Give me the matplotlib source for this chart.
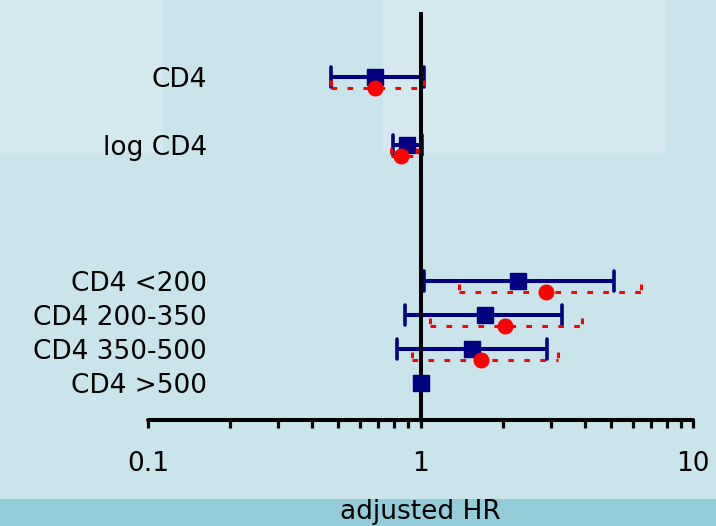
import matplotlib
matplotlib.use("Agg")
import matplotlib.pyplot as plt
from matplotlib.patches import Rectangle
from matplotlib.transforms import blended_transform_factory

plt.rcParams['font.family'] = ['DejaVu Sans']
plt.rcParams['lines.scale_dashes'] = False

# Forest plot data: adjusted hazard ratios with 95% CI
categories = ["CD4", "log CD4", "CD4 <200", "CD4 200-350", "CD4 350-500", "CD4 >500"]
rows = [0, 2, 6, 7, 8, 9]

model_a_hr = [0.68, 0.89, 2.27, 1.72, 1.54, 1.00]
model_a_lo = [0.47, 0.79, 1.03, 0.88, 0.82, 1.00]
model_a_hi = [1.03, 1.01, 5.14, 3.31, 2.92, 1.00]

model_b_hr = [0.68, 0.85, 2.89, 2.05, 1.67]
model_b_lo = [0.47, 0.78, 1.38, 1.08, 0.93]
model_b_hi = [1.03, 0.97, 6.45, 3.92, 3.20]

x_ticks = [0.1, 1, 10]
x_tick_labels = ["0.1", "1", "10"]
x_label = "adjusted HR"

W, H = 716, 526
fig = plt.figure(figsize=(W / 100, H / 100), dpi=100)
fig.patch.set_facecolor('#cae4eb')

# soft background panels and bottom band (full-figure background axes)
bg = fig.add_axes([0, 0, 1, 1], zorder=-10)
bg.set_xlim(0, W)
bg.set_ylim(H, 0)
bg.axis('off')
for (x0, x1) in [(0, 163), (383, 665)]:
    bg.add_patch(Rectangle((x0, 0), x1 - x0, 153, facecolor='#d4e9ef', edgecolor='none'))
bg.add_patch(Rectangle((0, 499), W, 27, facecolor='#95ccd9', edgecolor='none'))

ax_left, ax_right = 148, 693
ax_top, ax_bot = 12, 420
ax = fig.add_axes([ax_left / W, 1 - ax_bot / H, (ax_right - ax_left) / W, (ax_bot - ax_top) / H])
ax.set_facecolor('none')
ax.set_xscale('log')
ax.set_xlim(0.1, 10)
row0_px, row_px = 77, 34
ax.set_ylim((ax_bot - row0_px) / row_px, (ax_top - row0_px) / row_px)

for s in ['left', 'right', 'top']:
    ax.spines[s].set_visible(False)
ax.spines['bottom'].set_linewidth(2.9)
ax.spines['bottom'].set_capstyle('round')
ax.set_yticks([])
ax.set_xticks(x_ticks)
ax.set_xticklabels(x_tick_labels)
minor = [m * d for d in (0.1, 1) for m in range(2, 10)]
ax.set_xticks(minor, minor=True)
ax.tick_params(axis='x', which='both', direction='out', length=6, width=2.3,
               color='black', labelsize=19, pad=16)
ax.tick_params(axis='x', which='minor', labelbottom=False)

# reference line at HR = 1
ax.axvline(1, color='black', lw=2.9, solid_capstyle='round', zorder=3)

navy = '#000080'
red = '#ff0000'

# model A: solid navy bars with caps and squares
for y, hr, lo, hi in zip(rows, model_a_hr, model_a_lo, model_a_hi):
    if hi > lo:
        ax.hlines(y, lo, hi, color=navy, lw=2.9, zorder=2)
        ax.vlines([lo, hi], y - 0.28, y + 0.28, color=navy, lw=2.6,
                  capstyle='round', zorder=2)
    ax.plot(hr, y, marker='s', ms=11, color=navy, mec=navy, zorder=4)

# model B: dotted red bars with circles, drawn just below each row
off = 0.32
dash = (0, (4.1, 7.4))
for y, hr, lo, hi in zip(rows, model_b_hr, model_b_lo, model_b_hi):
    yy = y + off
    ax.hlines(yy, lo, hi, color=red, lw=2.2, linestyles=[dash], zorder=5)
    ax.vlines([lo, hi], yy - 0.24, yy + 0.24, color=red, lw=2.2,
              linestyles=[dash], zorder=5)
    ax.plot(hr, yy, marker='o', ms=10.5, color=red, mec=red, zorder=6)

# row labels
trans = blended_transform_factory(fig.transFigure, ax.transData)
for y, name in zip(rows, categories):
    ax.text(207 / W, y + 0.1, name, transform=trans, ha='right', va='center',
            fontsize=19, color='black')

fig.text(420 / W, 1 - 512 / H, x_label, ha='center', va='center', fontsize=19,
         color='black')

fig.savefig("out.png", dpi=100, facecolor=fig.get_facecolor())
